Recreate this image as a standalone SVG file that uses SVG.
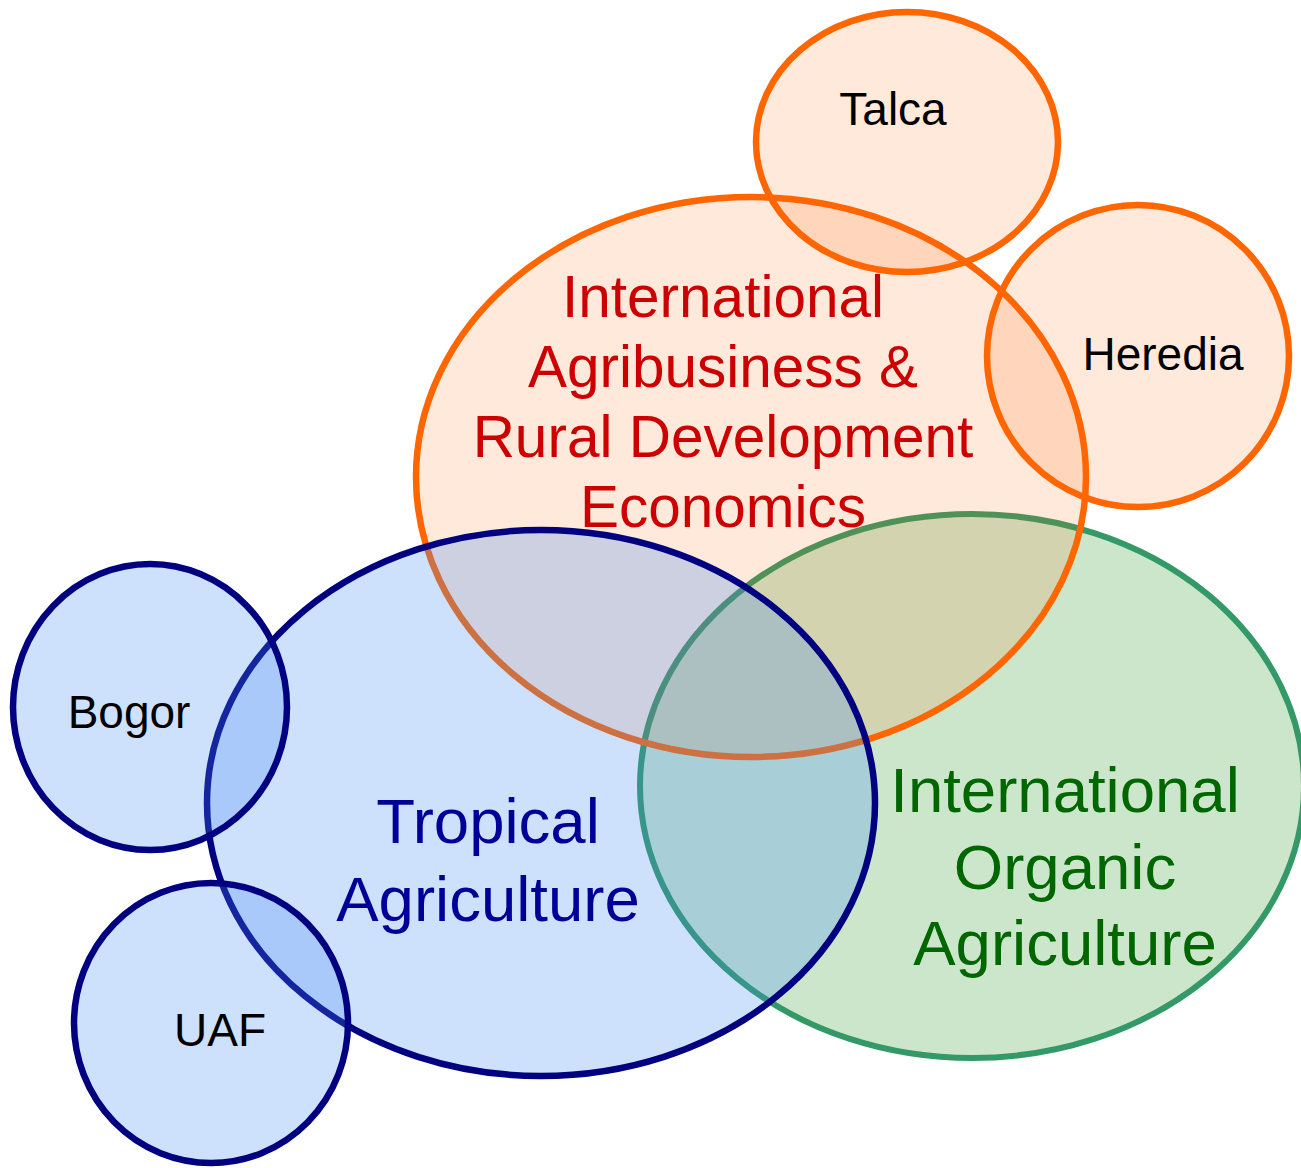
<svg xmlns="http://www.w3.org/2000/svg" width="1301" height="1168" viewBox="0 0 1301 1168">
  <style>
    .set { stroke-width: 6.5; }
    .orange { fill: #ff6600; fill-opacity: 0.14; stroke: #ff6600; }
    .green { fill: #008000; fill-opacity: 0.2; stroke: #339966; stroke-width: 6; }
    .blue { fill: rgb(70,140,244); fill-opacity: 0.27; stroke: #000080; }
    text { font-family: "Liberation Sans", Arial, Helvetica, sans-serif; text-anchor: middle; }
    .big { font-size: 63.5px; }
    .mid { font-size: 58.5px; }
    .small { font-size: 46px; fill: #000000; }
    .t-orange { fill: #cc0000; }
    .t-green { fill: #006600; }
    .t-blue { fill: #000099; }
  </style>
  <rect x="0" y="0" width="1301" height="1168" fill="#ffffff"/>

  <!-- sets, back to front -->
  <g id="organic">
    <ellipse class="set green" cx="972" cy="786" rx="332" ry="272"/>
  </g>
  <g id="agribusiness">
    <ellipse class="set orange" cx="751" cy="477" rx="335" ry="280"/>
  </g>
  <g id="talca">
    <ellipse class="set orange" cx="907" cy="142" rx="151" ry="130"/>
  </g>
  <g id="heredia">
    <ellipse class="set orange" cx="1138" cy="356" rx="151" ry="151"/>
  </g>
  <g id="tropical">
    <ellipse class="set blue" cx="541" cy="803" rx="334" ry="273"/>
  </g>
  <g id="bogor">
    <ellipse class="set blue" cx="150" cy="707" rx="137" ry="143"/>
  </g>
  <g id="uaf">
    <ellipse class="set blue" cx="211" cy="1023" rx="137" ry="140"/>
  </g>

  <!-- no connectors in this diagram -->
  <g id="connectors"/>

  <!-- labels -->
  <g id="labels">
    <text class="mid t-orange" x="723" y="317">International</text>
    <text class="mid t-orange" x="723" y="387">Agribusiness &amp;</text>
    <text class="mid t-orange" x="723" y="457">Rural Development</text>
    <text class="mid t-orange" x="723" y="527">Economics</text>

    <text class="big t-green" x="1065" y="812">International</text>
    <text class="big t-green" x="1065" y="889">Organic</text>
    <text class="big t-green" x="1065" y="965">Agriculture</text>

    <text class="big t-blue" x="488" y="843">Tropical</text>
    <text class="big t-blue" x="488" y="921">Agriculture</text>

    <text class="small" x="893" y="125">Talca</text>
    <text class="small" x="1163" y="370">Heredia</text>
    <text class="small" x="129" y="728">Bogor</text>
    <text class="small" x="220" y="1046">UAF</text>
  </g>
</svg>
